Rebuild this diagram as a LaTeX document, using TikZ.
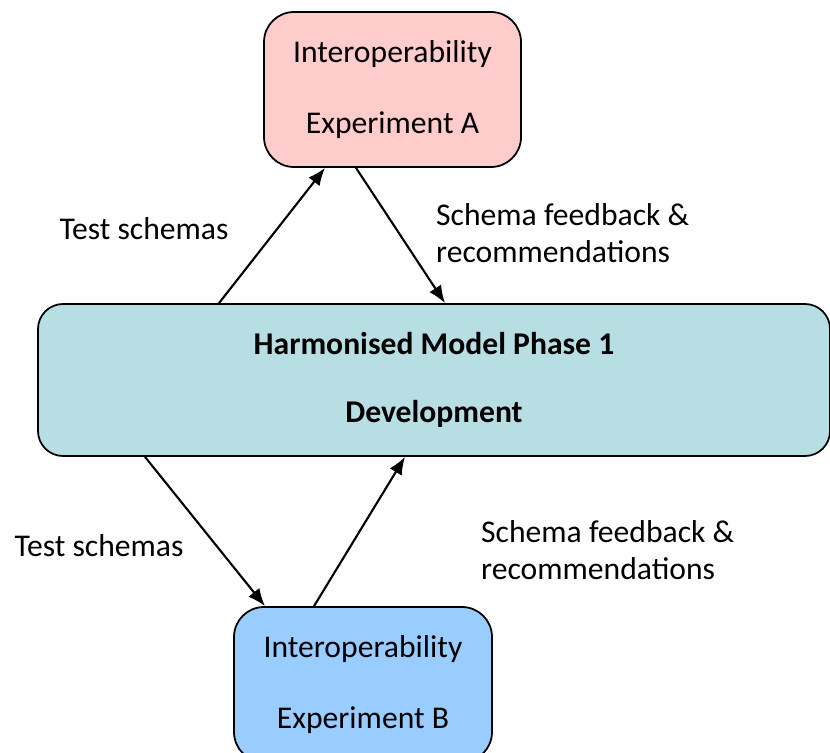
\documentclass[tikz,border=0pt]{standalone}
\usepackage{fontspec}
\setmainfont{Carlito}
\usetikzlibrary{arrows.meta}
\definecolor{pinkA}{HTML}{FFCCCC}
\definecolor{tealM}{HTML}{B7DEE3}
\definecolor{blueB}{HTML}{99CCFF}
\begin{document}
\begin{tikzpicture}[>={Latex[length=10pt,width=8pt]},
    box/.style={draw, line width=1pt, rounded corners=0.6cm, align=center,
        font=\fontsize{18}{40.5}\selectfont},
    lbl/.style={align=left, font=\fontsize{18}{21}\selectfont},
    conn/.style={->, line width=1.2pt}]
            \useasboundingbox (0,0) rectangle (16.6,-15.04);
            \node[box, fill=pinkA, minimum width=5.14cm, minimum height=3.1cm] (ExpA) at (7.85,-1.79) {Interoperability\\Experiment A};
            \node[box, fill=tealM, minimum width=15.84cm, minimum height=3.04cm, rounded corners=0.5cm,
                font=\fontsize{18}{38.5}\selectfont\bfseries] (Main) at (8.68,-7.6) {Harmonised Model Phase 1\\Development};
            \node[box, fill=blueB, minimum width=5.16cm, minimum height=3.1cm] (ExpB) at (7.26,-13.69) {Interoperability\\Experiment B};
            \node[lbl] (TestA) at (2.88,-4.58) {Test schemas};
            \node[lbl, anchor=west] (FbA) at (8.6,-4.66) {Schema feedback \&\\recommendations};
            \node[lbl] (TestB) at (1.98,-10.92) {Test schemas};
            \node[lbl, anchor=west] (FbB) at (9.5,-11.0) {Schema feedback \&\\recommendations};
            \draw[conn] ([xshift=-4.3cm]Main.north) -- ([xshift=-1.35cm]ExpA.south);
            \draw[conn] ([xshift=-0.73cm]ExpA.south) -- ([xshift=0.22cm]Main.north);
            \draw[conn] ([xshift=-5.78cm]Main.south) -- ([xshift=-1.96cm]ExpB.north);
            \draw[conn] ([xshift=-0.98cm]ExpB.north) -- ([xshift=-0.58cm]Main.south);
        \end{tikzpicture}
\end{document}
